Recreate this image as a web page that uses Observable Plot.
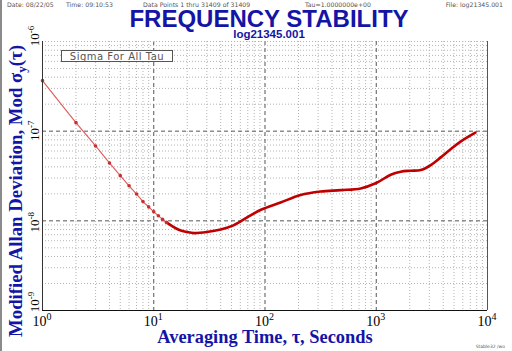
<!DOCTYPE html>
<html>
<head>
<meta charset="utf-8">
<script src="https://cdn.jsdelivr.net/npm/d3@7"></script>
<script src="https://cdn.jsdelivr.net/npm/@observablehq/plot@0.6"></script>
<style>
  html, body { margin: 0; padding: 0; background: #fff; }
  #wrap { width: 512px; height: 351px; position: relative; overflow: hidden; }
  #wrap::before { content: ""; position: absolute; left: 0; top: 0; width: 2px; height: 351px; background: #8a8a8a; }
</style>
</head>
<body>
<div id="wrap"></div>
<script>
// ---- data ----
const tau = [1, 2, 3, 4, 5, 6, 7, 8, 9, 10, 11, 12, 13, 15, 17, 20, 23, 30, 40, 52, 69, 91, 138, 209, 316, 479, 725, 1000, 1350, 1660, 2040, 2510, 3090, 3800, 4690, 5770, 7780];
const sigma = [3.66e-7, 1.245e-7, 6.84e-8, 4.42e-8, 3.19e-8, 2.46e-8, 1.99e-8, 1.64e-8, 1.43e-8, 1.26e-8, 1.14e-8, 1.04e-8, 9.6e-9, 8.57e-9, 7.9e-9, 7.5e-9, 7.3e-9, 7.5e-9, 8.0e-9, 8.9e-9, 1.09e-8, 1.32e-8, 1.60e-8, 1.94e-8, 2.12e-8, 2.20e-8, 2.30e-8, 2.64e-8, 3.27e-8, 3.53e-8, 3.62e-8, 3.68e-8, 4.19e-8, 5.10e-8, 6.32e-8, 7.69e-8, 9.62e-8];
const markerTaus = [1, 2, 3, 4, 5, 6, 7, 8, 9, 10, 11, 12, 13];
const xDecades = [1, 10, 100, 1000, 10000];
const yDecades = [1e-9, 1e-8, 1e-7, 1e-6];
const xTickExp = ["0", "1", "2", "3", "4"];
const yTickExp = ["-9", "-8", "-7", "-6"];
const minorMult = [2, 3, 4, 5, 6, 7, 8, 9];

const title = "FREQUENCY STABILITY";
const subtitle = "log21345.001";
const headerTexts = ["Date: 08/22/05", "Time: 09:10:53", "Data Points 1 thru 31409 of 31409", "Tau=1.0000000e+00", "File: log21345.001"];
const legendText = "Sigma For All Tau";
const xTitle = "Averaging Time, \u03c4, Seconds";
const footer = "Stable32 /wo";

// ---- derived tables ----
const pts = tau.map((t, i) => ({tau: t, sigma: sigma[i]}));
const thinPts = pts.filter(d => d.tau <= 17);
const thickPts = pts.filter(d => d.tau >= 13);
const markers = pts.filter(d => markerTaus.includes(d.tau));
const xMinor = xDecades.slice(0, -1).flatMap(d => minorMult.map(m => d * m));
const yMinor = yDecades.slice(0, -1).flatMap(d => minorMult.map(m => d * m));

const chart = Plot.plot({
  width: 512,
  height: 351,
  marginLeft: 42,
  marginRight: 25,
  marginTop: 41,
  marginBottom: 41,
  style: {fontFamily: "Liberation Sans, sans-serif", background: "transparent"},
  x: {type: "log", domain: [1, 1e4], axis: null},
  y: {type: "log", domain: [1e-9, 1e-6], axis: null},
  marks: [
    Plot.ruleX(xMinor, {stroke: "#b4b4b4", strokeWidth: 1, strokeDasharray: "1,2"}),
    Plot.ruleY(yMinor, {stroke: "#b4b4b4", strokeWidth: 1, strokeDasharray: "1,2"}),
    Plot.ruleX(xDecades.slice(1, -1), {stroke: "#555", strokeWidth: 1, strokeDasharray: "4,3"}),
    Plot.ruleY(yDecades.slice(1, -1), {stroke: "#555", strokeWidth: 1, strokeDasharray: "4,3"}),
    Plot.ruleY([1e-6], {stroke: "#b4b4b4", strokeWidth: 1, strokeDasharray: "1,2"}),
    Plot.line(thinPts, {x: "tau", y: "sigma", stroke: "#e05a5a", strokeWidth: 1.1, curve: "catmull-rom"}),
    Plot.line(thickPts, {x: "tau", y: "sigma", stroke: "#c00000", strokeWidth: 2.6, curve: "catmull-rom"}),
    Plot.dot(markers, {x: "tau", y: "sigma", r: 1.8, fill: "#c83030", stroke: "none"}),
    Plot.ruleX([1], {stroke: "#333", strokeWidth: 1}),
    Plot.ruleX([1e4], {stroke: "#555", strokeWidth: 1}),
    Plot.ruleY([1e-9], {stroke: "#111", strokeWidth: 1})
  ]
});

const svg = d3.select(chart);
const xs = chart.scale("x");
const ys = chart.scale("y");
const blue = "#1414a6";

// x tick labels
xDecades.forEach((d, i) => {
  const t = svg.append("text")
    .attr("x", xs.apply(d)).attr("y", 326)
    .attr("text-anchor", "middle")
    .attr("font-family", "Liberation Serif, serif")
    .attr("font-size", 14).attr("fill", "#000");
  t.append("tspan").text("10");
  t.append("tspan").attr("dy", -6).attr("font-size", 10).text(xTickExp[i]);
});

// y tick labels (rotated)
const yOffsets = [-8, 2, 0, -5];
yDecades.forEach((d, i) => {
  const cy = ys.apply(d) + yOffsets[i];
  const t = svg.append("text")
    .attr("transform", `translate(39,${cy}) rotate(-90)`)
    .attr("text-anchor", "middle")
    .attr("font-family", "Liberation Serif, serif")
    .attr("font-size", 13).attr("fill", "#000");
  t.append("tspan").text("10");
  t.append("tspan").attr("dy", -5).attr("font-size", 9).text(yTickExp[i]);
});

// title & subtitle
svg.append("text").attr("x", 269).attr("y", 26.5).attr("text-anchor", "middle")
  .attr("font-family", "Liberation Sans, Arial, sans-serif").attr("font-weight", "bold")
  .attr("font-size", 24).attr("fill", blue).text(title);
svg.append("text").attr("x", 269).attr("y", 37.5).attr("text-anchor", "middle")
  .attr("font-family", "Liberation Sans, Arial, sans-serif").attr("font-weight", "bold")
  .attr("font-size", 11.5).attr("fill", blue).text(subtitle);

// header line
const hx = [7, 66, 143, 305, 503];
const ha = ["start", "start", "start", "start", "end"];
headerTexts.forEach((s, i) => {
  svg.append("text").attr("x", hx[i]).attr("y", 6.5).attr("text-anchor", ha[i])
    .attr("font-family", "DejaVu Sans, sans-serif").attr("font-size", 6.2)
    .attr("fill", "#555").text(s);
});

// legend box
svg.append("rect").attr("x", 61.5).attr("y", 50.5).attr("width", 111).attr("height", 11)
  .attr("fill", "#fff").attr("stroke", "#555").attr("stroke-width", 1);
svg.append("text").attr("x", 117).attr("y", 59.8).attr("text-anchor", "middle")
  .attr("font-family", "DejaVu Sans, sans-serif").attr("font-size", 10)
  .attr("letter-spacing", 0.5)
  .attr("fill", "#555").text(legendText);

// x title
svg.append("text").attr("x", 265).attr("y", 343).attr("text-anchor", "middle")
  .attr("font-family", "Liberation Serif, serif").attr("font-weight", "bold")
  .attr("font-size", 18.4).attr("fill", blue).text(xTitle);

// y title
const yt = svg.append("text").attr("transform", "translate(22,191) rotate(-90)")
  .attr("text-anchor", "middle")
  .attr("font-family", "Liberation Serif, serif").attr("font-weight", "bold")
  .attr("font-size", 18.8).attr("fill", blue);
yt.append("tspan").text("Modified Allan Deviation, Mod \u03c3");
yt.append("tspan").attr("dy", 4).attr("font-size", 13).text("y");
yt.append("tspan").attr("dy", -4).text("(\u03c4)");

// footer
svg.append("text").attr("x", 505).attr("y", 348).attr("text-anchor", "end")
  .attr("font-family", "DejaVu Sans, sans-serif").attr("font-size", 4.5)
  .attr("fill", "#555").text(footer);

document.getElementById("wrap").appendChild(chart);
</script>
</body>
</html>
